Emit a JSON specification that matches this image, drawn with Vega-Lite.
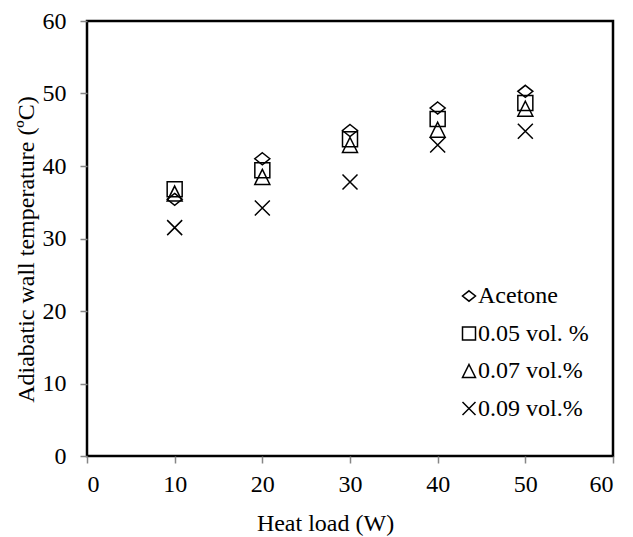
{
  "$schema": "https://vega.github.io/schema/vega-lite/v6.json",
  "autosize": {"type": "none"},
  "padding": {"left": 87, "top": 21, "right": 20, "bottom": 81},
  "width": 526,
  "height": 435,
  "background": "white",
  "config": {
    "font": "Liberation Serif",
    "view": {"stroke": "black", "strokeWidth": 2.5},
    "axis": {
      "grid": false,
      "domain": false,
      "tickColor": "#868686",
      "tickWidth": 1.5,
      "tickSize": 7,
      "labelFont": "Liberation Serif",
      "labelFontSize": 24,
      "labelColor": "black",
      "titleFont": "Liberation Serif",
      "titleFontSize": 24,
      "titleFontWeight": "normal",
      "titleColor": "black"
    },
    "legend": {
      "labelFont": "Liberation Serif",
      "labelFontSize": 24,
      "labelColor": "black"
    }
  },
  "data": {
    "values": [
      {"load": 10, "series": "Acetone", "temp": 35.4},
      {"load": 20, "series": "Acetone", "temp": 41.0},
      {"load": 30, "series": "Acetone", "temp": 44.9},
      {"load": 40, "series": "Acetone", "temp": 48.0},
      {"load": 50, "series": "Acetone", "temp": 50.3},
      {"load": 10, "series": "0.05 vol. %", "temp": 36.8},
      {"load": 20, "series": "0.05 vol. %", "temp": 39.4},
      {"load": 30, "series": "0.05 vol. %", "temp": 43.7},
      {"load": 40, "series": "0.05 vol. %", "temp": 46.5},
      {"load": 50, "series": "0.05 vol. %", "temp": 48.7},
      {"load": 10, "series": "0.07 vol.%", "temp": 36.2},
      {"load": 20, "series": "0.07 vol.%", "temp": 38.5},
      {"load": 30, "series": "0.07 vol.%", "temp": 42.9},
      {"load": 40, "series": "0.07 vol.%", "temp": 45.0},
      {"load": 50, "series": "0.07 vol.%", "temp": 47.9},
      {"load": 10, "series": "0.09 vol.%", "temp": 31.5},
      {"load": 20, "series": "0.09 vol.%", "temp": 34.2},
      {"load": 30, "series": "0.09 vol.%", "temp": 37.8},
      {"load": 40, "series": "0.09 vol.%", "temp": 42.9},
      {"load": 50, "series": "0.09 vol.%", "temp": 44.8}
    ]
  },
  "mark": {"type": "point", "filled": false, "size": 225, "strokeWidth": 1.5, "color": "black", "opacity": 1},
  "encoding": {
    "x": {
      "field": "load", "type": "quantitative",
      "scale": {"domain": [0, 60], "nice": false},
      "axis": {"values": [0, 10, 20, 30, 40, 50, 60], "labelPadding": 9, "title": "Heat load (W)", "titleX": 238, "titleY": 74, "titleBaseline": "alphabetic", "titleAnchor": "middle", "titleAlign": "center"}
    },
    "y": {
      "field": "temp", "type": "quantitative",
      "scale": {"domain": [0, 60], "nice": false},
      "axis": {"values": [0, 10, 20, 30, 40, 50, 60], "labelPadding": 14, "title": "Adiabatic wall temperature (ºC)", "titleX": -54, "titleY": 228, "titleBaseline": "alphabetic", "titleAngle": -90, "titleAlign": "center"}
    },
    "shape": {
      "field": "series", "type": "nominal",
      "scale": {
        "domain": ["Acetone", "0.05 vol. %", "0.07 vol.%", "0.09 vol.%"],
        "range": ["M0,-0.8L1,0L0,0.8L-1,0Z", "M-1,-1H1V1H-1Z", "M0,-1L1,1L-1,1Z", "M-1,-1L1,1M-1,1L1,-1"]
      },
      "legend": {
        "title": null,
        "orient": "none",
        "legendX": 370,
        "legendY": 263,
        "padding": 0,
        "symbolSize": 169,
        "symbolStrokeColor": "black",
        "symbolStrokeWidth": 1.5,
        "symbolFillColor": "transparent",
        "labelOffset": -3,
        "rowPadding": 13.5
      }
    }
  }
}
